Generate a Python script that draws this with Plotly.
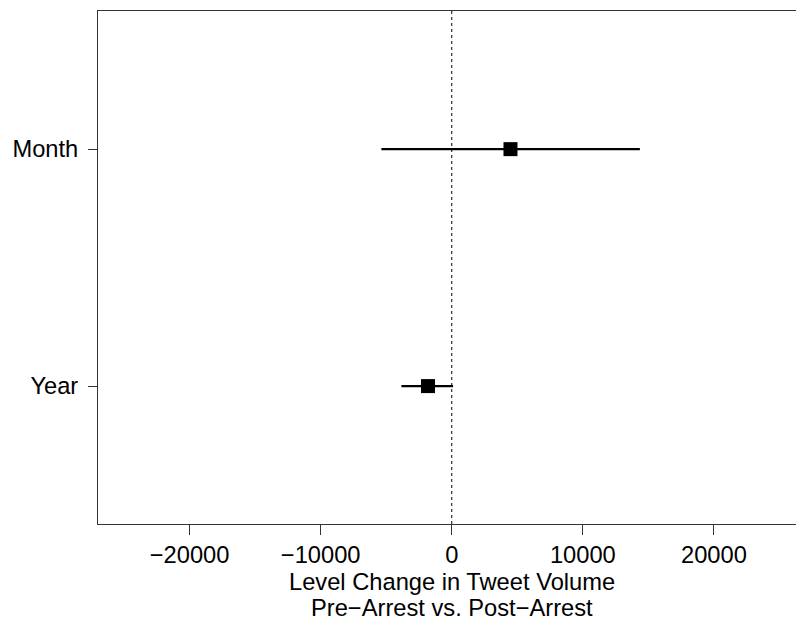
import plotly.graph_objects as go

categories = ["Year", "Month"]
y_pos = [1, 2]
estimates = [-1810, 4480]
ci_low = [-3840, -5370]
ci_high = [100, 14350]

tick_vals = [-20000, -10000, 0, 10000, 20000]
tick_text = ["\u221220000", "\u221210000", "0", "10000", "20000"]
x_title_lines = ["Level Change in Tweet Volume", "Pre\u2212Arrest vs. Post\u2212Arrest"]

FONT = dict(family="Liberation Sans, Arial, sans-serif", size=23.7, color="black")

err_plus = [h - e for h, e in zip(ci_high, estimates)]
err_minus = [e - l for e, l in zip(estimates, ci_low)]

fig = go.Figure()
fig.add_trace(go.Scatter(
    x=estimates, y=y_pos, mode="markers",
    marker=dict(symbol="square", size=14, color="black", line=dict(width=0)),
    error_x=dict(type="data", symmetric=False, array=err_plus, arrayminus=err_minus,
                 width=0, thickness=2.2, color="black"),
    showlegend=False, hoverinfo="skip",
))

fig.add_shape(type="line", xref="x", yref="paper", x0=0, x1=0, y0=0, y1=1,
              line=dict(color="black", width=1, dash="3px,3px"), layer="below")

fig.update_layout(
    width=796, height=622,
    margin=dict(l=98, r=0, t=11, b=98),
    plot_bgcolor="white", paper_bgcolor="white",
    font=FONT,
    xaxis=dict(range=[-26985, 26260], tickvals=tick_vals, ticktext=tick_text,
               showgrid=False, zeroline=False, showline=True, linecolor="#333",
               linewidth=1, mirror=True, ticks="outside", ticklen=10, tickcolor="#333",
               tickfont=FONT),
    yaxis=dict(range=[0.418, 2.583], tickvals=y_pos, ticktext=categories,
               showgrid=False, zeroline=False, showline=True, linecolor="#333",
               linewidth=1, ticks="outside", ticklen=9, tickcolor="#333",
               tickfont=FONT, ticklabelstandoff=5),
)

for i, line in enumerate(x_title_lines):
    fig.add_annotation(text=line, x=0, xref="x", y=0, yref="paper",
                       xanchor="center", yanchor="middle", yshift=-58 - 26 * i,
                       showarrow=False, font=FONT)

fig.write_html("out.html")
